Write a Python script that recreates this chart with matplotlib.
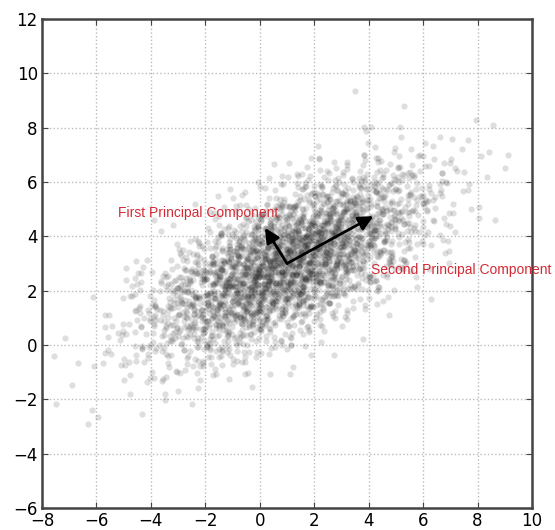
import numpy as np
import matplotlib
matplotlib.use("Agg")
import matplotlib.pyplot as plt

# ---- data: point-cloud density (points per 1x1 cell) ----
# each row: (cell-centre y, first cell-centre x, counts for consecutive cells)
row_y = [8.5, 7.5, 6.5, 5.5, 4.5, 3.5, 2.5, 1.5, 0.5, -0.5, -1.5, -2.5]
row_x0 = [3.5, 2.5, 0.5, -1.5, -3.5, -4.5, -5.5, -6.5, -6.5, -7.5, -6.5, -7.5]
row_counts = [
    [1, 0, 1, 0, 1],
    [1, 2, 3, 4, 3, 2, 1],
    [2, 4, 9, 14, 17, 15, 10, 5, 2, 1],
    [1, 5, 13, 27, 42, 50, 44, 29, 14, 5, 1],
    [1, 3, 10, 27, 57, 88, 103, 90, 59, 29, 11, 3, 1],
    [1, 4, 15, 40, 83, 128, 148, 128, 84, 41, 15, 4, 1],
    [1, 4, 15, 41, 84, 128, 148, 128, 83, 40, 15, 4, 1],
    [1, 3, 11, 29, 59, 90, 103, 88, 57, 27, 10, 3, 1],
    [1, 5, 14, 29, 44, 50, 42, 27, 13, 5, 1],
    [1, 2, 5, 10, 15, 17, 14, 9, 4, 2],
    [1, 2, 3, 4, 3, 2, 1],
    [1, 1, 1, 1, 1],
]

arrow_origin = (1.0, 3.0)
arrow_tips = [(4.17, 4.74), (0.19, 4.31)]
labels = ["First Principal Component", "Second Principal Component"]
label_pos = [(-2.27, 4.86), (7.39, 2.76)]

x_ticks = [-8, -6, -4, -2, 0, 2, 4, 6, 8, 10]
y_ticks = [-6, -4, -2, 0, 2, 4, 6, 8, 10, 12]


# ---- spread the counted points inside their cells (deterministic Halton sequence) ----
def halton(i, base):
    f, r = 1.0, 0.0
    while i > 0:
        f /= base
        r += f * (i % base)
        i //= base
    return r


xs, ys = [], []
idx = 17
for yc, x0, counts in zip(row_y, row_x0, row_counts):
    for j, n in enumerate(counts):
        xc = x0 + j
        for _ in range(n):
            idx += 1
            k = (idx * 7919) % 100003
            xs.append(xc + (halton(k, 2) - halton(k, 3)))
            ys.append(yc + (halton(k, 5) - halton(k, 7)))
xs = np.array(xs)
ys = np.array(ys)

fig = plt.figure(figsize=(5.55, 5.30), dpi=100)
ax = fig.add_axes([0.0757, 0.0415, 0.8829, 0.9227])

ax.scatter(xs, ys, s=20, c="#222222", alpha=0.15, linewidths=0, zorder=2)

for tip in arrow_tips:
    ax.annotate("", xy=tip, xytext=arrow_origin,
                arrowprops=dict(arrowstyle="-|>", color="black", lw=2,
                                mutation_scale=22, shrinkA=0, shrinkB=0),
                zorder=4)

for txt, (tx, ty) in zip(labels, label_pos):
    ax.text(tx, ty, txt, color="#d42a36", fontsize=10, family="Liberation Sans",
            ha="center", va="center", clip_on=False, zorder=5)

ax.set_xlim(-8, 10)
ax.set_ylim(-6, 12)
ax.set_xticks(x_ticks)
ax.set_yticks(y_ticks)
ax.tick_params(direction="in", top=True, right=True, labelsize=12, length=4,
               color="#444444", pad=3)
ax.grid(True, linestyle=":", color="#bbbbbb", linewidth=1, zorder=0)
ax.set_axisbelow(True)
for sp in ax.spines.values():
    sp.set_color("#444444")
    sp.set_linewidth(1.8)

fig.savefig("out.png", dpi=100)
